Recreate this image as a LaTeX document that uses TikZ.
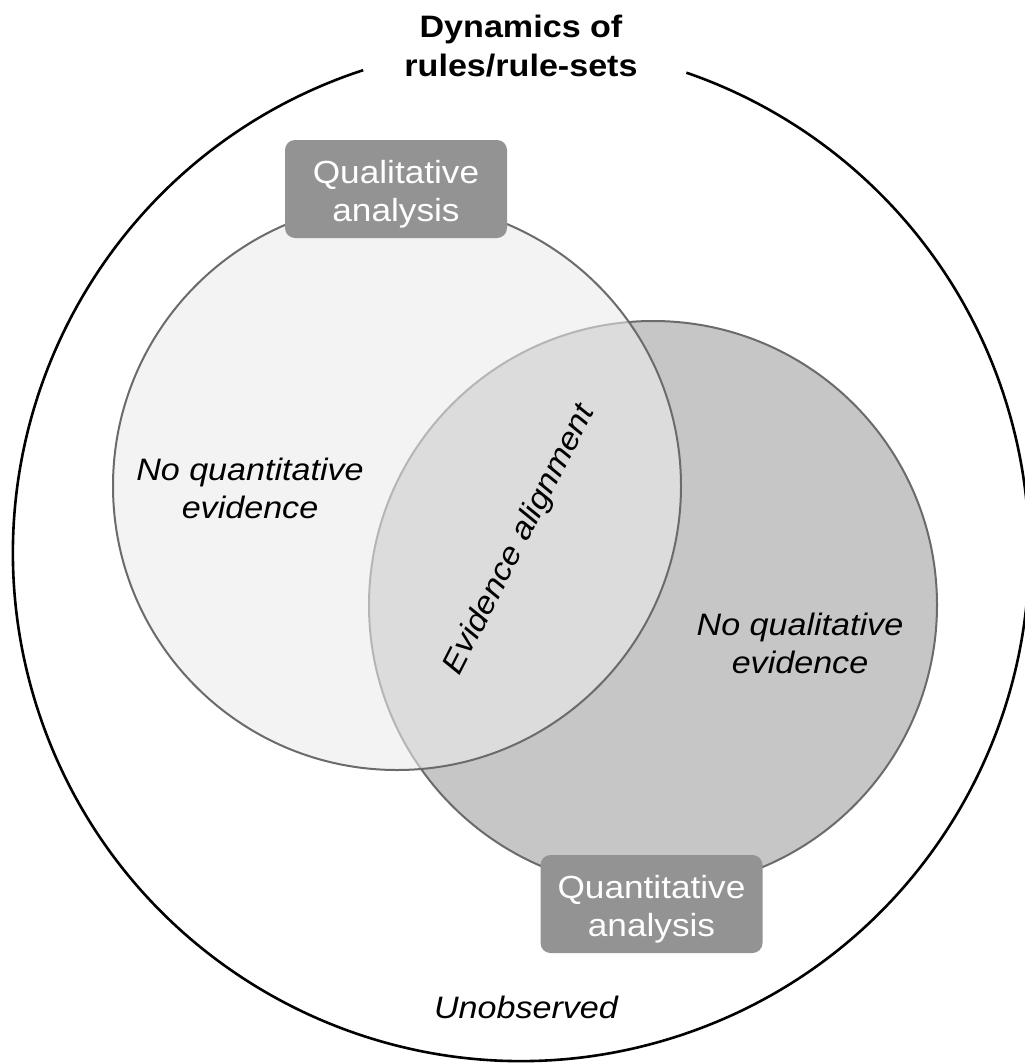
\documentclass[tikz,border=0pt]{standalone}
\usepackage{fontspec}
\setmainfont[FakeStretch=1.1]{Liberation Sans}
\definecolor{darkfill}{gray}{0.776}
\definecolor{lightfill}{gray}{0.925}
\definecolor{ringgray}{gray}{0.42}
\definecolor{boxgray}{gray}{0.576}
% taller first line, so that the two lines sit a little lower in the box
\newcommand{\boxstrut}{\rule{0pt}{33pt}}
\begin{document}
\begin{tikzpicture}[x=1pt,y=1pt,
  ring/.style={draw=ringgray, line width=2pt},
  venntext/.style={font=\fontsize{31}{38}\selectfont\itshape, align=center, inner sep=0pt},
  methodbox/.style={fill=boxgray, rounded corners=10pt, minimum width=222pt,
    minimum height=98pt, text=white, align=center,
    font=\fontsize{32}{38}\selectfont, inner sep=0pt},
]
\useasboundingbox (0,0) rectangle (1025,-1063);
\fill[white] (0,0) rectangle (1025,-1063);

% outer circle, open at the top for the title
\coordinate (world) at (521,-553);
\draw[line width=2.6pt] (world) ++(108.1:508) arc[start angle=108.1, end angle=431.0, radius=508];

% quantitative circle
\coordinate (quantc) at (653,-605);
\draw[ring, fill=darkfill] (quantc) circle[radius=284];

% qualitative circle, translucent over the other one
\coordinate (qualc) at (397,-486);
\fill[lightfill, fill opacity=0.58] (qualc) circle[radius=284];
\draw[ring] (qualc) circle[radius=284];

% labels
\node[font=\fontsize{31}{39}\selectfont\bfseries, align=center, inner sep=0pt] (title) at (521,-46) {Dynamics of\\rules/rule-sets};
\node[venntext] (noquant) at (250,-488) {No quantitative\\evidence};
\node[venntext] (noqual) at (800,-643) {No qualitative\\evidence};
\node[venntext, rotate=63] (align) at (520,-540) {Evidence alignment};
\node[venntext] (unobs) at (526,-1007) {Unobserved};

% method boxes
\node[methodbox] (qual) at (396,-189) {\boxstrut Qualitative\\analysis};
\node[methodbox] (quant) at (651.5,-904) {\boxstrut Quantitative\\analysis};
\end{tikzpicture}
\end{document}
